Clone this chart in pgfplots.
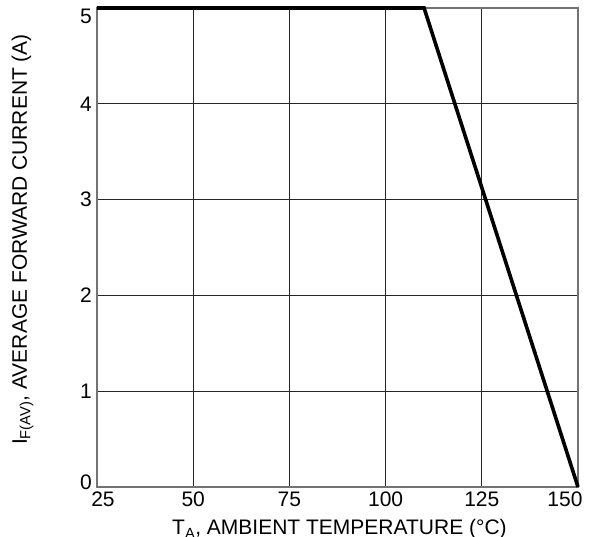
\documentclass[border=0pt]{standalone}
\usepackage{fontspec}
\setmainfont{Liberation Sans}
\usepackage{pgfplots}
\pgfplotsset{compat=1.18}
\usetikzlibrary{calc}
\begin{document}
\begin{tikzpicture}
\begin{axis}[
 scale only axis, width=481pt, height=479pt,
 xmin=25, xmax=150, ymin=0, ymax=5,
 xtick={25,50,75,100,125,150}, ytick={0,1,2,3,4,5},
 grid=major, major grid style={black!85, line width=0.8pt},
 axis line style={black!55, line width=1.2pt},
 tick style={draw=none},
 font=\fontsize{21}{25}\selectfont,
 /pgf/number format/assume math mode=true,
 xticklabel style={inner sep=5pt},
 yticklabel style={inner sep=5pt},
 xticklabel={\ifcase\ticknum\hspace*{12pt}25\or 50\or 75\or 100\or 125\or 150\hspace*{26pt}\fi},
 yticklabel={\ifcase\ticknum\raisebox{5pt}[\height][\depth]{0}\or 1\or 2\or 3\or 4\or\raisebox{-8pt}[\height][\depth]{5}\fi},
 xlabel={T\textsubscript{A}, AMBIENT TEMPERATURE (°C)},
 ylabel={I\textsubscript{F(AV)}, AVERAGE FORWARD CURRENT (A)},
 xlabel style={font=\fontsize{21}{25}\selectfont, at={(axis description cs:0.504,-0.1)}, anchor=base},
 ylabel style={font=\fontsize{21}{25}\selectfont, at={(axis description cs:-0.155,0.5167)}, anchor=center},
 clip=false,
]
\addplot[black, line width=3.6pt] coordinates {(25,5) (110,5) (150,0)};
\coordinate (sw) at (rel axis cs:0,0);
\coordinate (ne) at (rel axis cs:1,1);
\end{axis}
\pgfresetboundingbox
\path[use as bounding box] ($(sw)+(-97pt,-50pt)$) rectangle ($(ne)+(17pt,8pt)$);
\end{tikzpicture}
\end{document}
